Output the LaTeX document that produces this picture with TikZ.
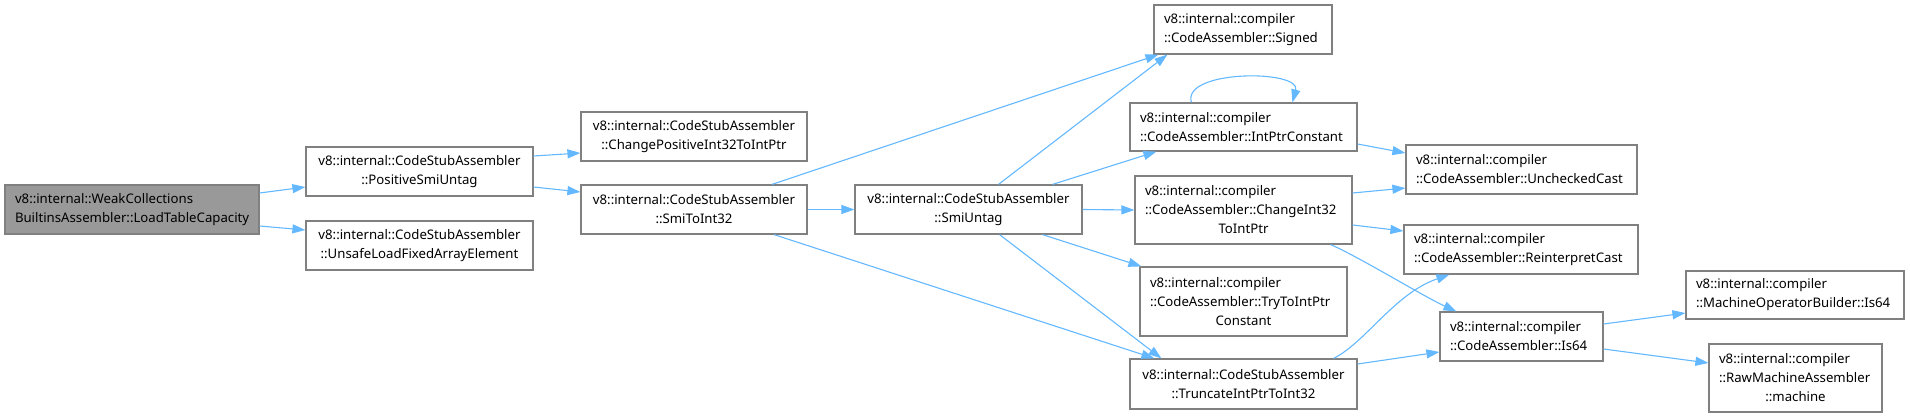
\documentclass[tikz,border=0pt]{standalone}
\usepackage{fontspec}
\setmainfont{Noto Sans}
\usetikzlibrary{arrows.meta}
\definecolor{edgec}{HTML}{63B8FF}
\definecolor{bordc}{HTML}{808080}
\definecolor{rootc}{HTML}{999999}
\tikzset{
  box/.style={draw=bordc, line width=1.2pt, fill=white, inner xsep=10pt, inner ysep=0pt,
    font=\fontsize{13.2}{19}\selectfont, text=black},
  lbox/.style={box, align=flush left},
  cbox/.style={box, align=center},
  edge/.style={draw=edgec, line width=1.1pt, -{Triangle[length=13pt,width=9pt]}},
}
\newcommand\cl[1]{\makebox[\hsize]{#1}}
\begin{document}
\begin{tikzpicture}[x=1pt,y=-1pt]
\useasboundingbox (0,0) rectangle (1910,417);
% column 0
\node[lbox, fill=rootc, minimum width=254pt, text width=234pt, minimum height=49pt] (ltc) at (132,209.5)
  {v8::internal::WeakCollections\\BuiltinsAssembler::LoadTableCapacity};
% column 1
\node[cbox, minimum width=227pt, text width=207pt, minimum height=49pt] (psu) at (419.5,171.5)
  {v8::internal::CodeStubAssembler\\::PositiveSmiUntag};
\node[cbox, minimum width=227pt, text width=207pt, minimum height=49pt] (ulf) at (419.5,245.5)
  {v8::internal::CodeStubAssembler\\::UnsafeLoadFixedArrayElement};
% column 2
\node[cbox, minimum width=226pt, text width=206pt, minimum height=49pt] (cpi) at (694,136.5)
  {v8::internal::CodeStubAssembler\\::ChangePositiveInt32ToIntPtr};
\node[cbox, minimum width=226pt, text width=206pt, minimum height=49pt] (sti) at (694,209.5)
  {v8::internal::CodeStubAssembler\\::SmiToInt32};
% column 3
\node[cbox, minimum width=227pt, text width=207pt, minimum height=49pt] (su) at (968.5,209.5)
  {v8::internal::CodeStubAssembler\\::SmiUntag};
% column 4
\node[lbox, minimum width=178pt, text width=158pt, minimum height=49pt] (sig) at (1243,29.5)
  {v8::internal::compiler\\::CodeAssembler::Signed};
\node[lbox, minimum width=227pt, text width=207pt, minimum height=48pt] (ipc) at (1243.5,127)
  {v8::internal::compiler\\::CodeAssembler::IntPtrConstant};
\node[lbox, minimum width=217pt, text width=197pt, minimum height=68pt] (ci) at (1243.5,210)
  {v8::internal::compiler\\::CodeAssembler::ChangeInt32\\\cl{ToIntPtr}};
\node[lbox, minimum width=207pt, text width=187pt, minimum height=69pt] (tti) at (1243.5,301.5)
  {v8::internal::compiler\\::CodeAssembler::TryToIntPtr\\\cl{Constant}};
\node[cbox, minimum width=227pt, text width=207pt, minimum height=50pt] (tip) at (1243.5,384)
  {v8::internal::CodeStubAssembler\\::TruncateIntPtrToInt32};
% column 5
\node[lbox, minimum width=231pt, text width=211pt, minimum height=49pt] (uc) at (1521.5,169.5)
  {v8::internal::compiler\\::CodeAssembler::UncheckedCast};
\node[lbox, minimum width=234pt, text width=214pt, minimum height=49pt] (rc) at (1521,249.5)
  {v8::internal::compiler\\::CodeAssembler::ReinterpretCast};
\node[lbox, minimum width=163pt, text width=143pt, minimum height=49pt] (is) at (1521.5,336.5)
  {v8::internal::compiler\\::CodeAssembler::Is64};
% column 6
\node[lbox, minimum width=218pt, text width=198pt, minimum height=48pt] (mob) at (1795,295)
  {v8::internal::compiler\\::MachineOperatorBuilder::Is64};
\node[lbox, minimum width=173pt, text width=153pt, minimum height=68pt] (rma) at (1795.5,378)
  {v8::internal::compiler\\::RawMachineAssembler\\\cl{::machine}};
% edges
\draw[edge] ([yshift=16.5pt]ltc.east) -- ([yshift=-15.5pt]psu.west);
\draw[edge] ([yshift=-16.5pt]ltc.east) -- ([yshift=15.5pt]ulf.west);
\draw[edge] ([yshift=15.5pt]psu.east) -- ([yshift=-16.5pt]cpi.west);
\draw[edge] ([yshift=-15.5pt]psu.east) -- ([yshift=17.5pt]sti.west);
\draw[edge] ([xshift=78pt]sti.north) -- ([xshift=5pt]sig.south west);
\draw[edge] (sti.east) -- (su.west);
\draw[edge] ([xshift=80pt]sti.south) -- ([xshift=25pt]tip.north west);
\draw[edge] ([xshift=30pt]su.north) -- ([xshift=14pt]sig.south west);
\draw[edge] ([xshift=84pt]su.north) -- ([xshift=27pt]ipc.south west);
\draw[edge] (su.east) -- (ci.west);
\draw[edge] ([xshift=74pt]su.south) -- ([xshift=2pt]tti.north west);
\draw[edge] ([xshift=31pt]su.south) -- ([xshift=32pt]tip.north west);
\draw[edge] ([xshift=62pt]ipc.north west) .. controls +(-10pt,33pt) and +(9pt,33pt) .. ([xshift=163pt]ipc.north west);
\draw[edge] ([yshift=-17pt]ipc.east) -- ([yshift=16.5pt]uc.west);
\draw[edge] ([yshift=17pt]ci.east) -- ([yshift=-18.5pt]uc.west);
\draw[edge] ([yshift=-15pt]ci.east) -- ([yshift=18.5pt]rc.west);
\draw[edge] ([xshift=-22pt]ci.south east) .. controls +(28pt,-12pt) and +(-33pt,15pt) .. ([xshift=17pt]is.north west);
\draw[edge] ([xshift=-24pt]tip.north east) .. controls +(32pt,16pt) and +(-55pt,-19pt) .. ([xshift=46pt]rc.south west);
\draw[edge] ([yshift=20pt]tip.east) -- ([yshift=-15.5pt]is.west);
\draw[edge] ([yshift=12.5pt]is.east) -- ([yshift=-18pt]mob.west);
\draw[edge] ([yshift=-12.5pt]is.east) -- ([yshift=15pt]rma.west);
\end{tikzpicture}
\end{document}
